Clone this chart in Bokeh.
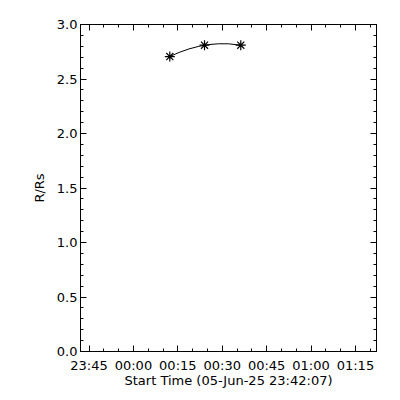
from bokeh.plotting import figure
from bokeh.models import LinearAxis, FixedTicker, Range1d, CustomJSTickFormatter
from bokeh.embed import file_html
from bokeh.resources import INLINE

# x in seconds after start time 05-Jun-25 23:42:07
point_t = [1810, 2514, 3249]
point_r = [2.706, 2.81, 2.81]

curve_t = [1810, 2000, 2200, 2400, 2600, 2800, 3000, 3249]
curve_r = [2.706, 2.744, 2.776, 2.800, 2.816, 2.823, 2.823, 2.810]

x_ticks = [173, 1073, 1973, 2873, 3773, 4673, 5573]
x_labels = ["23:45", "00:00", "00:15", "00:30", "00:45", "01:00", "01:15"]
x_minor = [173 + 300 * k for k in range(-1, 20)]
y_ticks = [0.0, 0.5, 1.0, 1.5, 2.0, 2.5, 3.0]
y_minor = [round(0.1 * k, 1) for k in range(0, 31)]

FONT = "DejaVu Sans"
FS = "13px"

p = figure(frame_width=296, frame_height=327, output_backend="svg",
           toolbar_location=None, x_range=Range1d(0, 6000), y_range=Range1d(0, 3.0),
           min_border_left=80, min_border_right=16, min_border_top=24, min_border_bottom=41,
           x_axis_label="Start Time (05-Jun-25 23:42:07)", y_axis_label="R/Rs")
p.grid.visible = False
p.outline_line_color = "black"
p.outline_line_width = 1
p.background_fill_color = "white"
p.border_fill_color = "white"

xt = FixedTicker(ticks=x_ticks, minor_ticks=x_minor)
yt = FixedTicker(ticks=y_ticks, minor_ticks=y_minor)

def style(ax, ticker, show_labels):
    ax.ticker = ticker
    ax.major_tick_in = 6
    ax.major_tick_out = 0
    ax.minor_tick_in = 3
    ax.minor_tick_out = 0
    ax.axis_line_color = "black"
    ax.major_tick_line_color = "black"
    ax.minor_tick_line_color = "black"
    ax.major_label_text_font = FONT
    ax.major_label_text_color = "black"
    ax.axis_label_text_font = FONT
    ax.axis_label_text_font_size = FS
    ax.axis_label_text_font_style = "normal"
    ax.axis_label_text_color = "black"
    ax.major_label_text_font_size = FS
    if not show_labels:
        ax.formatter = CustomJSTickFormatter(code="return ''")
        ax.major_label_standoff = 0

xa = p.xaxis[0]
style(xa, xt, True)
xa.major_label_overrides = {t: l for t, l in zip(x_ticks, x_labels)}
xa.major_label_standoff = 6
xa.axis_label_standoff = -3

ya = p.yaxis[0]
style(ya, yt, True)
ya.major_label_overrides = {v: f"{v:.1f}" for v in y_ticks}
ya.major_label_standoff = 3
ya.axis_label_standoff = 7

top = LinearAxis()
style(top, FixedTicker(ticks=x_ticks, minor_ticks=x_minor), False)
p.add_layout(top, "above")
right = LinearAxis()
style(right, FixedTicker(ticks=y_ticks, minor_ticks=y_minor), False)
p.add_layout(right, "right")

p.line(curve_t, curve_r, line_color="black", line_width=1)
p.scatter(point_t, point_r, marker="asterisk", size=10, line_color="black", line_width=1.2)

open("out.html", "w").write(file_html(p, INLINE))
